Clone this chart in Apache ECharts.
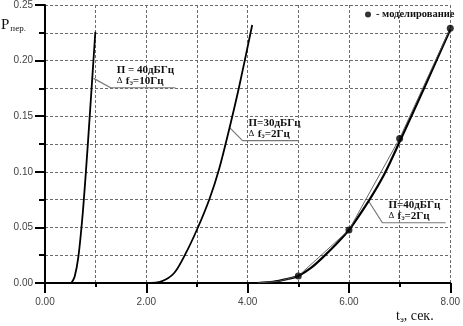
<!DOCTYPE html>
<html>
<head>
<meta charset="utf-8">
<script src="https://cdn.jsdelivr.net/npm/echarts@6/dist/echarts.min.js"></script>
<style>
  html, body { margin: 0; padding: 0; background: #fff; }
  #chart { width: 463px; height: 326px; }
</style>
</head>
<body>
<div id="chart"></div>
<script>
// Curve for П = 40 дБГц, Δf = 10 Гц
const curve40x10 = [[0.52, 0], [0.585, 0.0057], [0.66, 0.0240], [0.74, 0.0600], [0.81, 0.1016], [0.877, 0.1460], [0.94, 0.1890], [0.994, 0.226]];
// Curve for П = 30 дБГц, Δf = 2 Гц
const curve30x2 = [[2.0, 0], [2.3, 0.0015], [2.55, 0.009], [2.76, 0.025], [3.01, 0.049], [3.25, 0.076], [3.44, 0.103], [3.64, 0.139], [3.83, 0.176], [4.09, 0.232]];
// Curve for П = 40 дБГц, Δf = 2 Гц (calculated)
const curve40x2 = [[4.2, 0], [4.5, 0.001], [4.8, 0.0038], [5.0, 0.0063], [5.25, 0.0135], [5.5, 0.0237], [5.75, 0.035], [6.0, 0.0477], [6.4, 0.0746], [6.7, 0.098], [7.0, 0.127], [7.5, 0.177], [8.0, 0.228]];
// Simulation results and the polyline joining them
const simPoints = [[5.0, 0.0063], [6.0, 0.0477], [7.0, 0.130], [8.0, 0.229]];
const simLine = [[4.2, 0], [4.6, 0.0015], [5.0, 0.0063], [6.0, 0.0477], [7.0, 0.130], [8.0, 0.229]];

// Leader lines for the curve captions: point on curve, elbow, end of underline
const leaders = [
  [[0.96, 0.184], [1.296, 0.1756], [2.573, 0.1756]],
  [[3.64, 0.140], [3.90, 0.128], [5.0, 0.128]],
  [[6.39, 0.0735], [6.66, 0.0542], [7.91, 0.0542]]
];
const captions = [
  ['П = 40дБГц', '10Гц'],
  ['П=30дБГц', '2Гц'],
  ['П=40дБГц', '2Гц']
];

const xTicks = [0, 2, 4, 6, 8];

const chart = echarts.init(document.getElementById('chart'));

const gridLine = { show: true, lineStyle: { color: '#6a6a6a', width: 1, type: [3, 2] } };
const serif = '"Liberation Serif", "DejaVu Serif", serif';
const sans = 'Arial, "Liberation Sans", sans-serif';

const leaderSeries = leaders.map(pts => ({
  type: 'line', data: pts, showSymbol: false, silent: true,
  lineStyle: { color: '#777', width: 1.2 }, z: 1
}));

chart.setOption({
  animation: false,
  grid: { left: 45, right: 7.5, top: 5, bottom: 43, containLabel: false },
  legend: {
    data: ['моделирование'], left: 365, top: 9, padding: 0,
    icon: 'circle', itemWidth: 6, itemHeight: 6, itemGap: 0,
    formatter: '- {name}',
    textStyle: { fontFamily: serif, fontSize: 10.5, fontWeight: 'bold', color: '#111' }
  },
  xAxis: {
    type: 'value', min: 0, max: 8, interval: 2,
    axisLine: { show: true, onZero: false, lineStyle: { color: '#000', width: 2 } },
    axisTick: { show: true, length: 10, lineStyle: { color: '#000', width: 2 } },
    minorTick: { show: true, splitNumber: 2, length: 4, lineStyle: { color: '#000', width: 2 } },
    axisLabel: {
      margin: 14, color: '#444', fontFamily: sans, fontSize: 10,
      formatter: v => xTicks.includes(v) ? v.toFixed(2) : ''
    },
    splitLine: gridLine,
    minorSplitLine: gridLine
  },
  yAxis: {
    type: 'value', min: 0, max: 0.25, interval: 0.05,
    axisLine: { show: true, onZero: false, lineStyle: { color: '#000', width: 2 } },
    axisTick: { show: true, length: 10, lineStyle: { color: '#000', width: 2 } },
    minorTick: { show: true, splitNumber: 2, length: 6, lineStyle: { color: '#000', width: 2 } },
    axisLabel: {
      margin: 12, color: '#444', fontFamily: sans, fontSize: 10,
      formatter: v => v.toFixed(2)
    },
    splitLine: gridLine,
    minorSplitLine: gridLine
  },
  series: [
    ...leaderSeries,
    { type: 'line', data: curve40x10, smooth: 0.3, showSymbol: false, lineStyle: { color: '#000', width: 1.8 }, z: 3 },
    { type: 'line', data: curve30x2, smooth: 0.3, showSymbol: false, lineStyle: { color: '#000', width: 1.8 }, z: 3 },
    { type: 'line', data: curve40x2, smooth: 0.3, showSymbol: false, lineStyle: { color: '#000', width: 2.2 }, z: 3 },
    { type: 'line', data: simLine, showSymbol: false, lineStyle: { color: '#555', width: 0.9 }, z: 4 },
    { name: 'моделирование', type: 'scatter', data: simPoints, symbol: 'circle', symbolSize: 7,
      itemStyle: { color: '#000' }, z: 5 }
  ]
});

// Captions sit just above the underline, starting right after the elbow
const graphics = [];
leaders.forEach((pts, i) => {
  const p = chart.convertToPixel({ gridIndex: 0 }, pts[1]);
  const line = (txt, dy) => ({
    type: 'text', x: p[0] + 6, y: p[1] + dy, silent: true,
    style: {
      text: txt, verticalAlign: 'middle', align: 'left',
      rich: {
        a: { fontFamily: serif, fontSize: 11, fontWeight: 'bold', fill: '#111' },
        d: { fontFamily: serif, fontSize: 9, fill: '#111' },
        s: { fontFamily: serif, fontSize: 8, fill: '#111', padding: [5, 0, 0, 0] }
      }
    }
  });
  graphics.push(line('{a|' + captions[i][0] + '}', -18));
  graphics.push(line('{d|Δ} {a|f}{s|э}{a|=' + captions[i][1] + '}', -7));
});
// Axis titles
graphics.push({
  type: 'text', x: 1, y: 25, silent: true,
  style: {
    text: '{p|P}{s|пер.}', verticalAlign: 'middle',
    rich: {
      p: { fontFamily: serif, fontSize: 15, fill: '#111' },
      s: { fontFamily: serif, fontSize: 9, fill: '#111', padding: [8, 0, 0, 1] }
    }
  }
});
graphics.push({
  type: 'text', x: 396, y: 316, silent: true,
  style: {
    text: '{t|t}{s|э}{t|, сек.}', verticalAlign: 'middle',
    rich: {
      t: { fontFamily: serif, fontSize: 14, fill: '#111' },
      s: { fontFamily: serif, fontSize: 9, fill: '#111', padding: [8, 0, 0, 0] }
    }
  }
});
chart.setOption({ graphic: graphics });
</script>
</body>
</html>
